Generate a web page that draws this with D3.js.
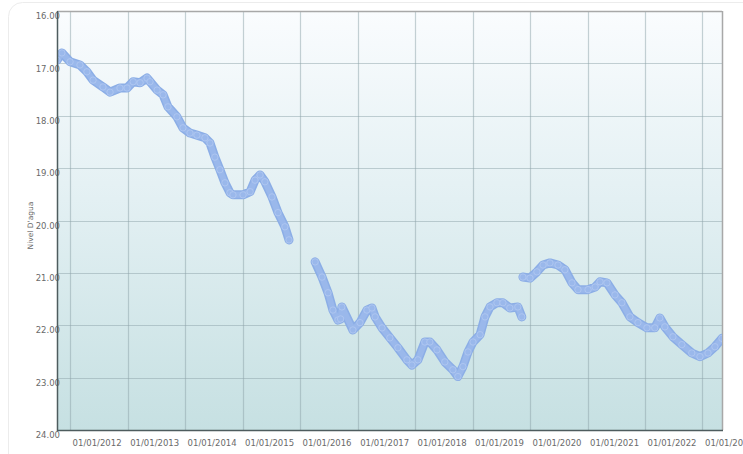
<!DOCTYPE html>
<html>
<head>
<meta charset="utf-8">
<script src="https://cdn.jsdelivr.net/npm/d3@7"></script>
<style>
  html, body { margin: 0; padding: 0; background: #ffffff; }
  svg { display: block; }
  text { font-family: "DejaVu Sans", Verdana, sans-serif; fill: #6a6a6a; }
</style>
</head>
<body>
<svg id="chart" width="743" height="454"></svg>
<script>
// ---- data ----
const dates = [
  "2011-10-10","2011-11-10","2012-01-01","2012-03-04","2012-04-17","2012-05-26","2012-07-28",
  "2012-09-11","2012-11-13","2012-12-28","2013-02-05","2013-03-21","2013-05-04","2013-05-23",
  "2013-07-07","2013-08-14","2013-09-14","2013-11-10","2013-12-18","2014-02-01","2014-03-17",
  "2014-05-07","2014-06-08","2014-07-09","2014-08-10","2014-09-11","2014-10-13","2014-11-01",
  "2015-01-04","2015-02-18","2015-03-21","2015-04-22","2015-05-23","2015-07-07","2015-08-14",
  "2015-09-27","2015-10-23","2016-01-01",
  "2016-04-06","2016-05-20","2016-06-27","2016-07-28","2016-08-29","2016-09-15","2016-09-23",
  "2016-12-02","2017-01-16","2017-03-01","2017-04-02","2017-04-22","2017-06-05","2017-07-25",
  "2017-09-14","2017-11-10","2017-12-12","2018-01-19","2018-03-04","2018-04-05","2018-05-20",
  "2018-07-09","2018-08-29","2018-09-30","2018-11-01","2018-12-03","2019-01-04","2019-02-18",
  "2019-03-21","2019-04-22","2019-06-05","2019-07-13","2019-08-26","2019-10-16","2019-11-10",
  "2019-11-13",
  "2019-11-17","2020-01-01","2020-02-14","2020-03-24","2020-05-07","2020-06-27","2020-08-10",
  "2020-09-24","2020-11-01","2021-01-04","2021-02-18","2021-03-21","2021-05-04","2021-06-24",
  "2021-08-07","2021-09-27","2021-11-17","2022-01-13","2022-03-04","2022-04-05","2022-05-07",
  "2022-06-27","2022-08-23","2022-10-25","2022-12-16","2023-02-05","2023-03-21","2023-05-05"
];
const levels = [
  16.94,16.80,16.97,17.03,17.16,17.32,17.45,
  17.55,17.47,17.47,17.35,17.37,17.28,17.35,
  17.51,17.60,17.83,18.02,18.23,18.33,18.37,
  18.42,18.52,18.79,19.03,19.28,19.47,19.51,
  19.51,19.45,19.23,19.13,19.26,19.55,19.85,
  20.12,20.37,null,
  20.79,21.08,21.38,21.71,21.90,21.88,21.65,
  22.09,21.95,21.71,21.67,21.84,22.05,22.24,
  22.43,22.66,22.76,22.66,22.32,22.32,22.47,
  22.70,22.85,22.98,22.79,22.51,22.32,22.18,
  21.84,21.65,21.57,21.57,21.67,21.65,21.84,
  null,
  21.08,21.10,20.98,20.85,20.81,20.85,20.94,
  21.19,21.32,21.32,21.27,21.17,21.19,21.42,
  21.57,21.84,21.95,22.05,22.05,21.86,22.03,
  22.22,22.37,22.53,22.60,22.53,22.41,22.25
];
const yTicks = [16, 17, 18, 19, 20, 21, 22, 23, 24];
const xTickYears = ["2012","2013","2014","2015","2016","2017","2018","2019","2020","2021","2022","2023"];
const yTitle = "Nivel D'agua";

// ---- layout ----
const pL = 57, pR = 722, pT = 11, pB = 430;
const parse = d3.utcParse("%Y-%m-%d");
const x = d3.scaleUtc().domain([parse("2011-10-10"), parse("2023-05-05")]).range([pL, pR]);
const y = d3.scaleLinear().domain([16, 24]).range([pT, pB]);

const svg = d3.select("#chart");

// outer faint frame
svg.append("rect").attr("x", 8.5).attr("y", 2.5).attr("width", 760).attr("height", 470)
  .attr("rx", 14).attr("fill", "none").attr("stroke", "#ececec");

const defs = svg.append("defs");
const grad = defs.append("linearGradient").attr("id", "bg").attr("x1", 0).attr("y1", 0).attr("x2", 0).attr("y2", 1);
grad.append("stop").attr("offset", "0%").attr("stop-color", "#fafcfe");
grad.append("stop").attr("offset", "45%").attr("stop-color", "#e3f0f3");
grad.append("stop").attr("offset", "100%").attr("stop-color", "#c6e0e2");
defs.append("clipPath").attr("id", "clip").append("rect")
  .attr("x", pL).attr("y", pT).attr("width", pR - pL).attr("height", pB - pT);

svg.append("rect").attr("x", pL).attr("y", pT).attr("width", pR - pL).attr("height", pB - pT)
  .attr("fill", "url(#bg)");

// grid
const xTickDates = xTickYears.map(t => parse(t + "-01-01"));
const grid = svg.append("g");
grid.selectAll("line.h").data(yTicks.slice(1, -1)).join("line")
  .attr("x1", pL).attr("x2", pR)
  .attr("y1", d => Math.round(y(d)) + 0.5).attr("y2", d => Math.round(y(d)) + 0.5)
  .attr("stroke", "#8ea4a9").attr("stroke-opacity", 0.5).attr("stroke-width", 1.2);
grid.selectAll("line.v").data(xTickDates).join("line")
  .attr("y1", pT).attr("y2", pB)
  .attr("x1", d => Math.round(x(d)) + 0.5).attr("x2", d => Math.round(x(d)) + 0.5)
  .attr("stroke", "#8ea4a9").attr("stroke-opacity", 0.5).attr("stroke-width", 1.2);

// border
svg.append("line").attr("x1", pL).attr("x2", pR).attr("y1", pT + 0.5).attr("y2", pT + 0.5)
  .attr("stroke", "#a8a8a8").attr("stroke-width", 1.5);
svg.append("line").attr("x1", pR + 0.5).attr("x2", pR + 0.5).attr("y1", pT).attr("y2", pB)
  .attr("stroke", "#a8a8a8").attr("stroke-width", 1.5);

// series
const pts = dates.map((d, i) => ({ date: parse(d), v: levels[i] }));
const line = d3.line().defined(d => d.v !== null).x(d => x(d.date)).y(d => y(d.v)).curve(d3.curveLinear);
const plot = svg.append("g").attr("clip-path", "url(#clip)");
plot.append("path").datum(pts).attr("d", line)
  .attr("fill", "none").attr("stroke", "#8caee6").attr("stroke-width", 9)
  .attr("stroke-linejoin", "round").attr("stroke-linecap", "round");
plot.append("path").datum(pts).attr("d", line)
  .attr("fill", "none").attr("stroke", "#9ab8eb").attr("stroke-width", 6)
  .attr("stroke-linejoin", "round").attr("stroke-linecap", "round");
plot.selectAll("circle").data(pts.filter(d => d.v !== null)).join("circle")
  .attr("cx", d => x(d.date)).attr("cy", d => y(d.v)).attr("r", 3.2)
  .attr("fill", "#9ab8eb").attr("stroke", "#b3c9f1").attr("stroke-width", 0.8);

// axes
const yAxis = d3.axisLeft(y).tickValues(yTicks).tickSize(0).tickFormat(d3.format(".2f"));
const gy = svg.append("g").attr("transform", `translate(${pL + 3},0)`).call(yAxis);
gy.select(".domain").remove();
gy.selectAll("text").attr("font-size", "8.5px").attr("dy", "0.9em").attr("x", 0).attr("fill", "#6a6a6a");

const xAxis = d3.axisBottom(x).tickValues(xTickDates).tickSize(0).tickFormat(d3.utcFormat("%d/%m/%Y"));
const gx = svg.append("g").attr("transform", `translate(0,${pB})`).call(xAxis);
gx.select(".domain").remove();
gx.selectAll("text").attr("font-size", "8.5px").attr("text-anchor", "start")
  .attr("x", 2).attr("y", 10).attr("fill", "#6a6a6a");

svg.append("line").attr("x1", pL + 0.5).attr("x2", pL + 0.5).attr("y1", pT).attr("y2", pB + 1)
  .attr("stroke", "#4e5c5e").attr("stroke-width", 1.5);
svg.append("line").attr("x1", pL).attr("x2", pR + 1).attr("y1", pB + 0.5).attr("y2", pB + 0.5)
  .attr("stroke", "#4e5c5e").attr("stroke-width", 1.5);

svg.append("text").attr("transform", `translate(33,${(pT + pB) / 2 + 5}) rotate(-90)`)
  .attr("text-anchor", "middle").attr("font-size", "7.5px").attr("fill", "#666").text(yTitle);
</script>
</body>
</html>
